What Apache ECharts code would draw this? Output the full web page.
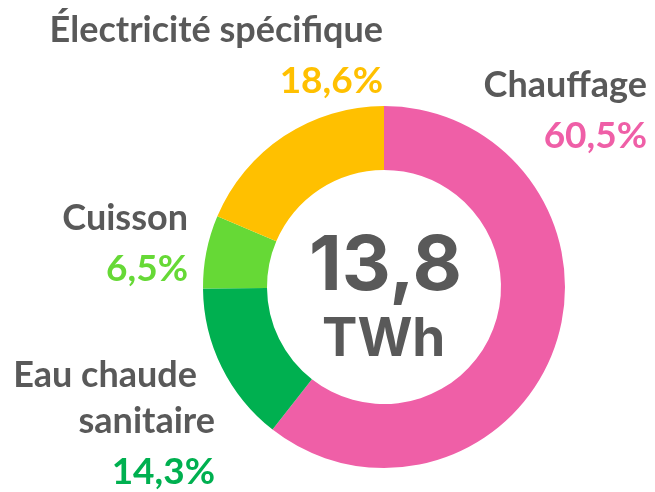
<!DOCTYPE html>
<html lang="fr">
<head>
    <meta charset="UTF-8">
    <title>Consommation</title>
    <script src="https://cdn.jsdelivr.net/npm/echarts@6/dist/echarts.min.js"></script>
    <style>
        html, body { margin: 0; padding: 0; background: #fff; }
    </style>
</head>
<body>
<div id="main" style="width: 655px;height:492px;"></div>
<script type="text/javascript">
    // données du graphique
    var categories = ['Chauffage', 'Eau chaude\nsanitaire', 'Cuisson', 'Électricité spécifique'];
    var values = [60.5, 14.3, 6.5, 18.6];
    var colors = ['#EF5FA7', '#00B050', '#66D936', '#FFC000'];
    var totalValue = '13,8';
    var totalUnit = 'TWh';

    // position des étiquettes (coin haut-droit du bloc de texte)
    var labelPos = [
        { x: 647, y: 62 },
        { x: 215, y: 352 },
        { x: 188, y: 195 },
        { x: 383, y: 7 }
    ];

    var myChart = echarts.init(document.getElementById('main'));

    var data = [];
    for (var i = 0; i < categories.length; i++) {
        data.push({
            name: categories[i],
            value: values[i],
            itemStyle: { color: colors[i] },
            label: {
                rich: {
                    n: { fontFamily: 'Lato', fontWeight: 'bold', fontSize: 36, color: '#595959', lineHeight: 46, align: 'right' },
                    f: { fontFamily: 'Lato', fontWeight: 'bold', fontSize: 36, color: '#595959', lineHeight: 46, align: 'right', padding: [0, 18, 0, 0] },
                    v: { fontFamily: 'Lato', fontWeight: 'bold', fontSize: 37, color: colors[i], lineHeight: 56, align: 'right' }
                }
            }
        });
    }

    var option = {
        animation: false,
        graphic: [
            {
                type: 'text',
                left: 309,
                top: 229,
                style: {
                    text: totalValue,
                    font: 'bold 76px Inter',
                    fill: '#595959'
                }
            },
            {
                type: 'text',
                left: 322,
                top: 314,
                style: {
                    text: totalUnit,
                    font: 'bold 53px Inter',
                    fill: '#595959'
                }
            }
        ],
        series: [
            {
                type: 'pie',
                center: [384, 287],
                radius: [117, 181],
                startAngle: 90,
                clockwise: true,
                avoidLabelOverlap: false,
                silent: true,
                labelLine: { show: false },
                label: {
                    show: true,
                    formatter: function (p) {
                        var pct = p.value.toFixed(1).replace('.', ',') + '%';
                        var parts = p.name.split('\n');
                        var lines = parts.map(function (s, k) {
                            var st = (parts.length > 1 && k === 0) ? 'f' : 'n';
                            return '{' + st + '|' + s + '}';
                        });
                        return lines.join('\n') + '\n{v|' + pct + '}';
                    }
                },
                labelLayout: function (params) {
                    var pos = labelPos[params.dataIndex];
                    return {
                        x: pos.x,
                        y: pos.y,
                        align: 'right',
                        verticalAlign: 'top',
                        hideOverlap: false
                    };
                },
                data: data
            }
        ]
    };

    myChart.setOption(option);
</script>
</body>
</html>
